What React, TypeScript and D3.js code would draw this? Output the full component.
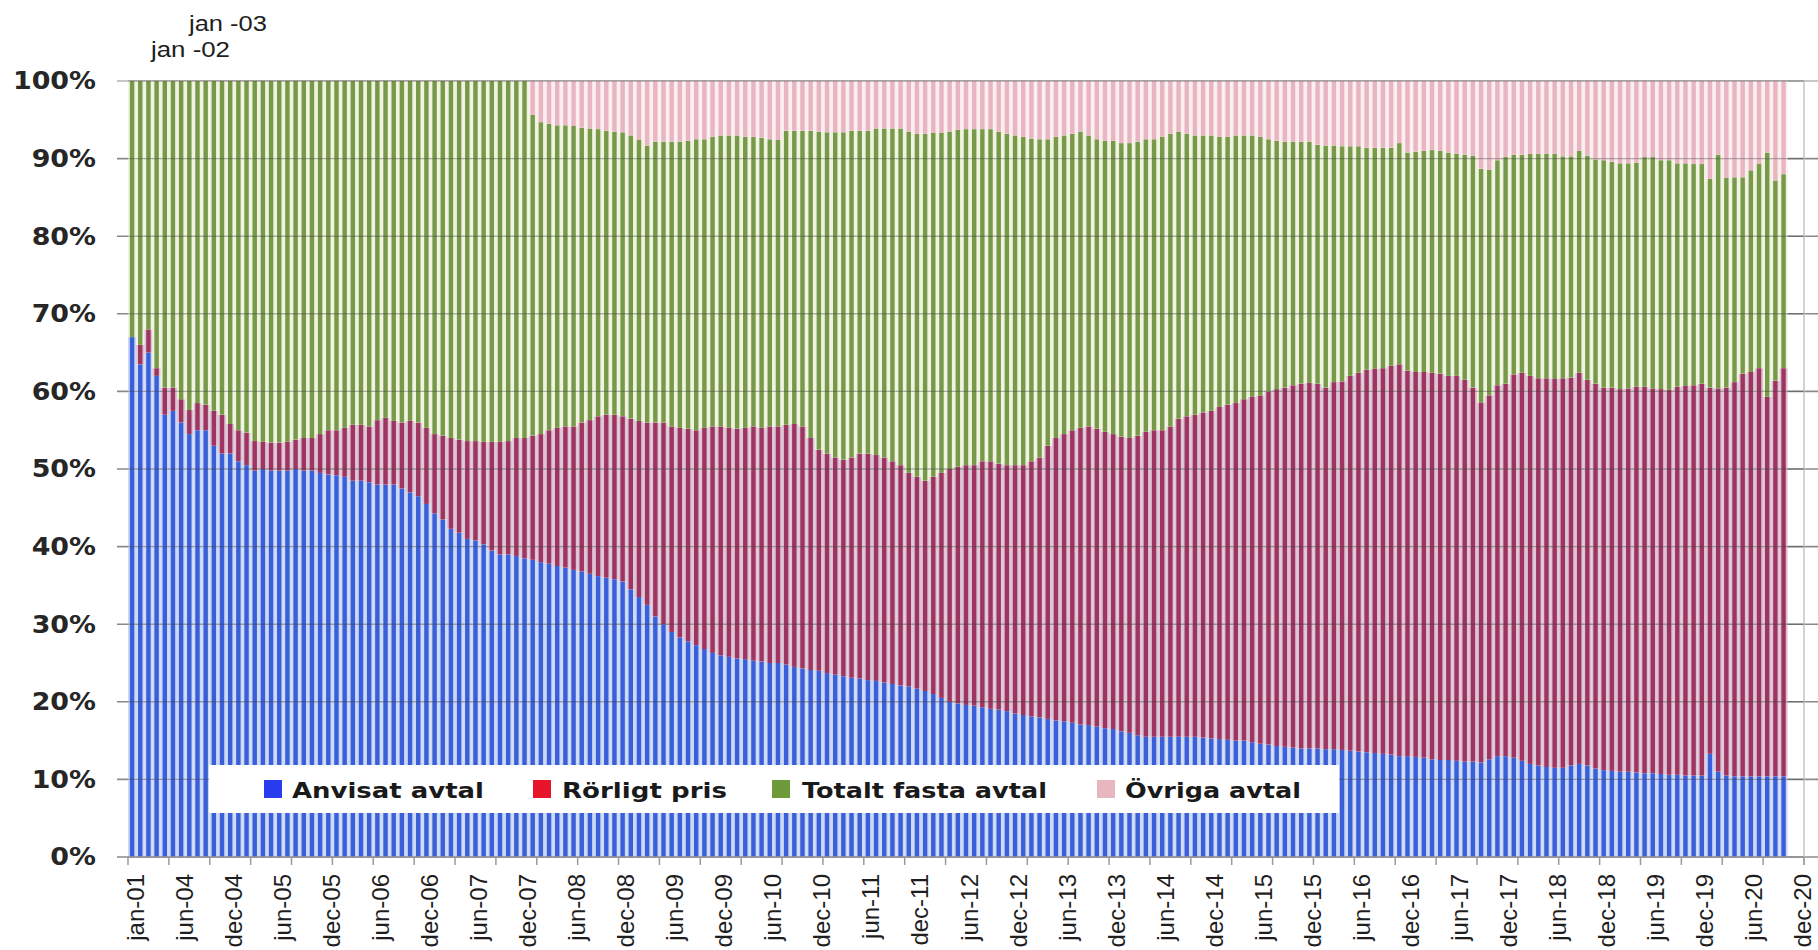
import React from "react";
import * as d3 from "d3";

const W = 1818;
const H = 950;

// ---- categories (monthly from jun-04; first six points are yearly / sparse) ----
const firstCategories = ["jan-01", "jan-02", "jan-03", "mar-04", "apr-04", "maj-04"];
const monthNames = ["jan", "feb", "mar", "apr", "maj", "jun", "jul", "aug", "sep", "okt", "nov", "dec"];
const categories: string[] = (() => {
  const out = [...firstCategories];
  let m = 5, y = 4;
  while (out.length < 205) {
    out.push(`${monthNames[m]}-${String(y).padStart(2, "0")}`);
    m++;
    if (m === 12) { m = 0; y++; }
  }
  return out;
})();

const tickLabels = [
  "jan-01", "jun-04", "dec-04", "jun-05", "dec-05", "jun-06", "dec-06", "jun-07", "dec-07",
  "jun-08", "dec-08", "jun-09", "dec-09", "jun-10", "dec-10", "jun-11", "dec-11", "jun-12",
  "dec-12", "jun-13", "dec-13", "jun-14", "dec-14", "jun-15", "dec-15", "jun-16", "dec-16",
  "jun-17", "dec-17", "jun-18", "dec-18", "jun-19", "dec-19", "jun-20", "dec-20",
];

const yTicks = [0, 10, 20, 30, 40, 50, 60, 70, 80, 90, 100];

// ---- series values (% of customers), one value per month that has data ----
const anvisat = [
  67, 63.5, 65, 62, 57, 57.5, 56, 54.5, 55, 55, 53, 52, 52, 51, 50.5, 49.8, 50, 49.8, 49.8, 49.8,
  50, 49.8, 49.8, 49.5, 49.3, 49.2, 49, 48.5, 48.5, 48.3, 48, 48, 48, 47.5, 47, 46.5, 45.5, 44.3, 43.5, 42.3,
  41.8, 41, 40.8, 40.3, 39.5, 39, 39, 38.8, 38.5, 38.3, 38, 37.8, 37.5, 37.3, 37, 36.8, 36.5, 36.2, 36, 35.8,
  35.5, 34.5, 33.5, 32.5, 31, 30, 29, 28.3, 27.8, 27.3, 26.8, 26.3, 26, 25.8, 25.6, 25.5, 25.3, 25.2, 25, 25,
  24.8, 24.5, 24.3, 24.1, 24, 23.7, 23.5, 23.3, 23.1, 23, 22.8, 22.7, 22.5, 22.3, 22.1, 22, 21.7, 21.4, 21, 20.5,
  20, 19.8, 19.6, 19.5, 19.3, 19.1, 19, 18.8, 18.5, 18.3, 18.1, 18, 17.8, 17.6, 17.5, 17.3, 17.1, 17, 16.8, 16.6,
  16.5, 16.2, 16, 15.7, 15.5, 15.5, 15.5, 15.5, 15.5, 15.5, 15.5, 15.4, 15.3, 15.2, 15.1, 15, 15, 14.8, 14.6, 14.5,
  14.3, 14.2, 14.1, 14, 14, 14, 13.9, 13.9, 13.8, 13.7, 13.6, 13.5, 13.4, 13.3, 13.2, 13, 13, 12.9, 12.8, 12.6,
  12.5, 12.5, 12.4, 12.3, 12.3, 12.2, 12.6, 13, 13, 12.8, 12.4, 12, 11.8, 11.6, 11.5, 11.5, 11.8, 12, 11.8, 11.4,
  11.2, 11.1, 11, 11, 10.9, 10.8, 10.8, 10.7, 10.6, 10.6, 10.5, 10.5, 10.5, 13.3, 11, 10.5, 10.4, 10.4, 10.4, 10.4,
  10.4, 10.4, 10.4,
];
const rorligt = [
  0, 2.5, 3, 1, 3.5, 3, 3, 3.1, 3.5, 3.3, 4.5, 5, 3.8, 4, 4.2, 3.8, 3.5, 3.6, 3.6, 3.7,
  3.8, 4.2, 4.2, 5, 5.7, 5.8, 6.3, 7.2, 7.2, 7.2, 8.3, 8.6, 8.2, 8.5, 9.2, 9.5, 9.8, 10.2, 10.8, 11.7,
  12, 12.6, 12.8, 13.2, 14, 14.5, 14.6, 15.2, 15.5, 16, 16.5, 17.2, 17.8, 18.2, 18.5, 19.2, 19.8, 20.6, 21, 21.2,
  21.3, 22, 22.7, 23.5, 25, 26, 26.5, 27, 27.4, 27.7, 28.5, 29.2, 29.5, 29.5, 29.6, 29.8, 30.2, 30.1, 30.5, 30.5,
  30.9, 31.3, 31.2, 29.9, 28.5, 28.3, 28, 27.9, 28.4, 29, 29.2, 29.1, 29, 28.7, 28.4, 27.5, 27.3, 27.1, 28, 29,
  30, 30.5, 30.9, 31, 31.7, 31.9, 31.7, 31.7, 32, 32.2, 32.9, 33.5, 35.2, 36.4, 37, 37.7, 38.2, 38.5, 38.4, 38.2,
  38, 38, 38, 38.6, 39.3, 39.5, 39.5, 40, 41, 41.3, 41.5, 41.9, 42.2, 42.8, 43.2, 43.5, 44, 44.5, 44.9, 45.5,
  46, 46.3, 46.7, 47, 47.1, 47, 46.6, 47.3, 47.5, 48.3, 48.8, 49.3, 49.5, 49.7, 50.1, 50.5, 49.7, 49.6, 49.7, 49.8,
  49.8, 49.5, 49.6, 49.2, 48.2, 46.4, 46.9, 47.8, 48, 49.4, 50, 50, 49.9, 50.1, 50.1, 50.2, 50, 50.4, 49.7, 49.6,
  49.3, 49.4, 49.3, 49.4, 49.7, 49.8, 49.6, 49.6, 49.6, 50, 50.2, 50.3, 50.5, 47.2, 49.4, 50, 50.8, 51.9, 52.1, 52.6,
  48.9, 51, 52.6,
];
const fasta = [
  33, 34, 32, 37, 39.5, 39.5, 41, 42.4, 41.5, 41.7, 42.5, 43, 44.2, 45, 45.3, 46.4, 46.5, 46.6, 46.6, 46.5,
  46.2, 46, 46, 45.5, 45, 45, 44.7, 44.3, 44.3, 44.5, 43.7, 43.4, 43.8, 44, 43.8, 44, 44.7, 45.5, 45.7, 46,
  46.2, 46.4, 46.4, 46.5, 46.5, 46.5, 46.4, 46, 46, 41.4, 40.2, 39.5, 39, 38.8, 38.7, 38, 37.6, 37, 36.6, 36.5,
  36.6, 36.5, 36.2, 35.7, 36.2, 36.2, 36.7, 36.9, 37.1, 37.5, 37.2, 37.3, 37.5, 37.7, 37.8, 37.5, 37.3, 37.4, 37, 36.9,
  37.9, 37.8, 38.1, 39.6, 41, 41.4, 41.9, 42.2, 42.1, 41.6, 41.6, 42.1, 42.4, 42.9, 43.4, 44, 44.2, 44.7, 44.3, 43.8,
  43.5, 43.4, 43.3, 43.3, 42.8, 42.8, 42.8, 42.7, 42.5, 42.3, 41.6, 41, 39.5, 38.8, 38.5, 38.2, 38.2, 37.5, 37.3, 37.5,
  37.8, 37.8, 38, 37.9, 37.7, 37.5, 37.8, 37.7, 37, 36.4, 36, 35.7, 35.5, 34.8, 34.5, 34.5, 34, 33.7, 33.3, 32.5,
  32, 31.7, 31.4, 31.2, 31.1, 30.8, 31.2, 30.5, 30.3, 29.6, 29.2, 28.6, 28.5, 28.4, 28.1, 28.5, 28.1, 28.4, 28.5, 28.7,
  28.7, 28.8, 28.6, 29, 29.9, 30.1, 29.1, 29, 29.2, 28.3, 28.1, 28.6, 28.9, 28.9, 29, 28.6, 28.5, 28.6, 28.9, 28.9,
  29.3, 29.1, 29.1, 29, 28.9, 29.6, 29.8, 29.5, 29.6, 28.8, 28.7, 28.5, 28.3, 26.9, 30.1, 27, 26.4, 25.3, 26, 26.3,
  31.5, 25.8, 25,
];
const ovriga = [
  0, 0, 0, 0, 0, 0, 0, 0, 0, 0, 0, 0, 0, 0, 0, 0, 0, 0, 0, 0,
  0, 0, 0, 0, 0, 0, 0, 0, 0, 0, 0, 0, 0, 0, 0, 0, 0, 0, 0, 0,
  0, 0, 0, 0, 0, 0, 0, 0, 0, 4.3, 5.3, 5.5, 5.7, 5.7, 5.8, 6, 6.1, 6.2, 6.4, 6.5,
  6.6, 7, 7.6, 8.3, 7.8, 7.8, 7.8, 7.8, 7.7, 7.5, 7.5, 7.2, 7, 7, 7, 7.2, 7.2, 7.3, 7.5, 7.6,
  6.4, 6.4, 6.4, 6.4, 6.5, 6.6, 6.6, 6.6, 6.4, 6.4, 6.4, 6.1, 6.1, 6.1, 6.1, 6.5, 6.8, 6.8, 6.7, 6.7,
  6.5, 6.3, 6.2, 6.2, 6.2, 6.2, 6.5, 6.8, 7, 7.2, 7.4, 7.5, 7.5, 7.2, 7, 6.8, 6.5, 7, 7.5, 7.7,
  7.7, 8, 8, 7.8, 7.5, 7.5, 7.2, 6.8, 6.5, 6.8, 7, 7, 7, 7.2, 7.2, 7, 7, 7, 7.2, 7.5,
  7.7, 7.8, 7.8, 7.8, 7.8, 8.2, 8.3, 8.3, 8.4, 8.4, 8.4, 8.6, 8.6, 8.6, 8.6, 8, 9.2, 9.1, 9, 8.9,
  9, 9.2, 9.4, 9.5, 9.6, 11.3, 11.4, 10.2, 9.8, 9.5, 9.5, 9.4, 9.4, 9.4, 9.4, 9.7, 9.7, 9, 9.6, 10.1,
  10.2, 10.4, 10.6, 10.6, 10.5, 9.8, 9.8, 10.2, 10.2, 10.6, 10.6, 10.7, 10.7, 12.6, 9.5, 12.5, 12.4, 12.4, 11.5, 10.7,
  9.2, 12.8, 12,
];

const seriesKeys = ["anvisat", "rorligt", "fasta", "ovriga"];
const seriesNames = ["Anvisat avtal", "Rörligt pris", "Totalt fasta avtal", "Övriga avtal"];
const barColors = ["#3a5fd8", "#9e3560", "#78984a", "#e8b6c0"];
const gapColors = ["#c9d8f5", "#dcc3d4", "#eef3dd", "#fcedf0"];
const legendColors = ["#2a3cf0", "#e8142a", "#6f9a3a", "#e8b6be"];

const rows = anvisat.map((v, i) => ({
  cat: categories[i],
  anvisat: v,
  rorligt: rorligt[i],
  fasta: fasta[i],
  ovriga: ovriga[i],
}));

export default function App() {
  const left = 128, right = 1804, top = 81, bottom = 857;
  const x = d3.scaleBand<string>().domain(categories).range([left, right]).paddingInner(0).paddingOuter(0);
  const y = d3.scaleLinear().domain([0, 100]).range([bottom, top]);
  const bw = x.bandwidth();
  const barW = bw * 0.54;
  const stacked = d3.stack<any>().keys(seriesKeys)(rows);

  const legendItems = [
    { sq: 264, tx: 292, tl: 192 },
    { sq: 533, tx: 562, tl: 165 },
    { sq: 772, tx: 802, tl: 245 },
    { sq: 1097, tx: 1125, tl: 176 },
  ];

  return (
    <svg width={W} height={H} style={{ position: "absolute", left: 0, top: 0, background: "#fff" }}>
      {/* gridlines under bars */}
      {yTicks.map((t) => (
        <line key={"g" + t} x1={117} x2={W} y1={y(t)} y2={y(t)} stroke={t === 100 ? "#b5b5b5" : "#8a8a8a"} strokeWidth={1.6} />
      ))}
      {/* right plot border */}
      <line x1={right} x2={right} y1={top} y2={bottom + 8} stroke="#c4c4c4" strokeWidth={1.5} />
      {/* bars */}
      {stacked.map((s, si) => (
        <g key={s.key}>
          {s.map((d, i) => {
            const h = y(d[0]) - y(d[1]);
            if (h <= 0) return null;
            const cx = x(d.data.cat)!;
            return (
              <g key={i}>
                <rect x={cx} y={y(d[1])} width={bw} height={h} fill={gapColors[si]} />
                <rect x={cx + (bw - barW) / 2} y={y(d[1])} width={barW} height={h} fill={barColors[si]} />
              </g>
            );
          })}
        </g>
      ))}
      {/* gridlines over bars (faint) */}
      {yTicks.map((t) => (
        <line key={"o" + t} x1={left} x2={right} y1={y(t)} y2={y(t)} stroke="#3a3a3a" strokeOpacity={0.35} strokeWidth={1.4} />
      ))}
      {/* x axis */}
      <line x1={left} x2={right} y1={bottom} y2={bottom} stroke="#9a9a9a" strokeWidth={1.5} />
      {d3.range(0, categories.length + 1, 5).map((k) => {
        const xx = left + k * bw;
        return <line key={"t" + k} x1={xx} x2={xx} y1={bottom} y2={bottom + 8} stroke="#9a9a9a" strokeWidth={1.5} />;
      })}
      {/* y labels */}
      {yTicks.map((t) => (
        <text key={"yl" + t} transform={`translate(96,${y(t)}) scale(1.12,1)`} textAnchor="end" dominantBaseline="central"
          fontFamily="DejaVu Sans" fontWeight="bold" fontSize={24} fill="#262626">
          {t}%
        </text>
      ))}
      {/* x labels */}
      {tickLabels.map((lab) => {
        const cx = x(lab)! + bw / 2 + 3;
        return (
          <text key={"xl" + lab} transform={`translate(${cx},${bottom + 17}) rotate(-90)`} textAnchor="end" dominantBaseline="central"
            fontFamily="Liberation Sans, Arial, sans-serif" fontSize={24} fill="#1e1e1e">
            {lab}
          </text>
        );
      })}
      {/* annotations */}
      <text x={189} y={31} fontFamily="Liberation Sans, Arial, sans-serif" fontSize={22} textLength={78} lengthAdjust="spacingAndGlyphs" fill="#1e1e1e">jan -03</text>
      <text x={151} y={57} fontFamily="Liberation Sans, Arial, sans-serif" fontSize={22} textLength={79} lengthAdjust="spacingAndGlyphs" fill="#1e1e1e">jan -02</text>
      {/* legend */}
      <rect x={209} y={765} width={1130} height={48} fill="#fff" />
      {legendItems.map((it, i) => (
        <g key={"lg" + i}>
          <rect x={it.sq} y={780} width={18} height={18} fill={legendColors[i]} />
          <text x={it.tx} y={798} fontFamily="DejaVu Sans, sans-serif" fontWeight="bold" fontSize={22} textLength={it.tl}
            lengthAdjust="spacingAndGlyphs" fill="#1a1a1a">
            {seriesNames[i]}
          </text>
        </g>
      ))}
    </svg>
  );
}
